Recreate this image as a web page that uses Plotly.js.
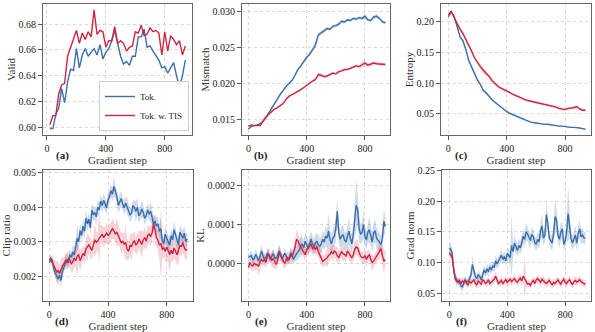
<!DOCTYPE html>
<html>
<head>
<meta charset="utf-8">
<script src="https://cdn.plot.ly/plotly-3.0.1.min.js"></script>
<style>html,body{margin:0;padding:0;background:#fff}</style>
</head>
<body>
<div id="plot" style="width:595px;height:332px"></div>
<script>
// steps for each grid of points
const stepsA = [20,40,60,80,100,120,140,160,180,200,220,240,260,280,300,320,340,360,380,400,420,440,460,480,500,520,540,560,580,600,620,640,660,680,700,720,740,760,780,800,820,840,860,880,900,920,940];
const steps20 = [0,20,40,60,80,100,120,140,160,180,200,220,240,260,280,300,320,340,360,380,400,420,440,460,480,500,520,540,560,580,600,620,640,660,680,700,720,740,760,780,800,820,840,860,880,900,920,940];
const steps10 = [0,10,20,30,40,50,60,70,80,90,100,110,120,130,140,150,160,170,180,190,200,210,220,230,240,250,260,270,280,290,300,310,320,330,340,350,360,370,380,390,400,410,420,430,440,450,460,470,480,490,500,510,520,530,540,550,560,570,580,590,600,610,620,630,640,650,660,670,680,690,700,710,720,730,740,750,760,770,780,790,800,810,820,830,840,850,860,870,880,890,900,910,920,930,940];

// (a) Valid
const validTok = [0.599,0.599,0.610,0.615,0.630,0.619,0.635,0.645,0.644,0.661,0.646,0.656,0.661,0.655,0.658,0.661,0.656,0.664,0.653,0.658,0.661,0.667,0.675,0.665,0.655,0.649,0.651,0.648,0.655,0.655,0.670,0.670,0.676,0.662,0.663,0.659,0.655,0.652,0.646,0.647,0.642,0.646,0.650,0.640,0.631,0.640,0.652];
const validTis = [0.602,0.609,0.609,0.626,0.633,0.634,0.655,0.662,0.669,0.675,0.665,0.673,0.668,0.674,0.670,0.691,0.672,0.675,0.674,0.662,0.667,0.667,0.678,0.665,0.667,0.665,0.659,0.662,0.663,0.674,0.673,0.679,0.671,0.672,0.677,0.674,0.675,0.673,0.656,0.674,0.659,0.671,0.668,0.664,0.667,0.656,0.663];

// (b) Mismatch
const mismatchTok = [0.0137,0.0141,0.0142,0.0142,0.0145,0.0148,0.0153,0.0160,0.0167,0.0174,0.0180,0.0186,0.0191,0.0197,0.0201,0.0205,0.0212,0.0220,0.0225,0.0231,0.0237,0.0241,0.0247,0.0254,0.0268,0.0271,0.0273,0.0277,0.0276,0.0280,0.0281,0.0283,0.0287,0.0286,0.0289,0.0288,0.0291,0.0290,0.0292,0.0291,0.0294,0.0289,0.0288,0.0293,0.0294,0.0291,0.0286,0.0285];
const mismatchTis = [0.0141,0.0143,0.0142,0.0143,0.0142,0.0149,0.0154,0.0158,0.0162,0.0165,0.0167,0.0170,0.0173,0.0179,0.0183,0.0185,0.0187,0.0189,0.0192,0.0195,0.0198,0.0202,0.0204,0.0206,0.0213,0.0212,0.0210,0.0211,0.0213,0.0215,0.0214,0.0217,0.0218,0.0220,0.0220,0.0222,0.0224,0.0225,0.0224,0.0227,0.0229,0.0226,0.0227,0.0229,0.0228,0.0228,0.0227,0.0227];
const mismatchTokSpread = [0.00008,0.0001,0.0001,0.0001,0.00012,0.0001,0.00012,0.00012,0.00015,0.00012,0.00015,0.00015,0.00018,0.00015,0.00018,0.00015,0.0002,0.00018,0.0002,0.00022,0.00025,0.0003,0.00035,0.00045,0.0003,0.00025,0.0003,0.00025,0.0002,0.00022,0.0002,0.00025,0.0002,0.0002,0.00022,0.0002,0.0002,0.00025,0.0002,0.00022,0.0004,0.00022,0.0002,0.00025,0.0003,0.00022,0.0002,0.0002];
const mismatchTisSpread = [0.00008,0.0001,0.0001,0.0001,0.0001,0.00012,0.0001,0.00012,0.0001,0.00012,0.0001,0.00012,0.00012,0.00015,0.00012,0.00012,0.00015,0.00012,0.00015,0.00012,0.00015,0.00015,0.00018,0.0002,0.0003,0.00018,0.00015,0.00015,0.00018,0.00015,0.00015,0.00018,0.00015,0.00018,0.00015,0.0002,0.00018,0.00025,0.0002,0.0004,0.00045,0.0002,0.00025,0.0002,0.0002,0.00022,0.00025,0.0002];

// (c) Entropy
const entropyTok = [0.208,0.216,0.209,0.194,0.176,0.169,0.155,0.137,0.127,0.115,0.105,0.098,0.088,0.084,0.078,0.073,0.069,0.065,0.062,0.057,0.054,0.051,0.049,0.046,0.044,0.042,0.040,0.039,0.037,0.036,0.035,0.035,0.034,0.033,0.033,0.032,0.031,0.031,0.030,0.030,0.029,0.029,0.028,0.028,0.028,0.027,0.026,0.025];
const entropyTis = [0.211,0.217,0.207,0.196,0.188,0.181,0.172,0.162,0.152,0.141,0.133,0.127,0.121,0.116,0.111,0.104,0.099,0.095,0.092,0.090,0.087,0.085,0.082,0.080,0.077,0.075,0.073,0.072,0.071,0.070,0.069,0.067,0.067,0.066,0.064,0.063,0.062,0.061,0.059,0.058,0.057,0.059,0.059,0.060,0.062,0.058,0.056,0.056];
const entropyTokSpread = [0.001,0.002,0.002,0.002,0.003,0.003,0.003,0.003,0.003,0.002,0.002,0.002,0.002,0.003,0.002,0.002,0.002,0.0015,0.0012,0.0012,0.001,0.001,0.001,0.001,0.0008,0.0008,0.0008,0.0008,0.0008,0.0007,0.0007,0.0007,0.0007,0.0006,0.0006,0.0006,0.0006,0.0006,0.0006,0.0006,0.0006,0.0006,0.0006,0.0006,0.0006,0.0006,0.0006,0.0006];
const entropyTisSpread = [0.001,0.002,0.002,0.003,0.003,0.004,0.003,0.003,0.003,0.003,0.003,0.004,0.006,0.004,0.003,0.003,0.003,0.003,0.002,0.002,0.002,0.002,0.002,0.002,0.002,0.002,0.002,0.002,0.002,0.002,0.002,0.002,0.002,0.002,0.002,0.002,0.002,0.002,0.002,0.003,0.002,0.002,0.002,0.002,0.002,0.002,0.002,0.002];

// (d) Clip ratio
const clipTok = [0.00239,0.00250,0.00247,0.00222,0.00210,0.00198,0.00192,0.00203,0.00188,0.00215,
  0.00228,0.00242,0.00250,0.00238,0.00262,0.00255,0.00270,0.00262,0.00285,0.00310,
  0.00300,0.00332,0.00318,0.00345,0.00330,0.00368,0.00352,0.00365,0.00340,0.00392,
  0.00378,0.00385,0.00372,0.00400,0.00392,0.00418,0.00405,0.00420,0.00410,0.00398,
  0.00422,0.00430,0.00448,0.00438,0.00460,0.00445,0.00432,0.00405,0.00415,0.00425,
  0.00410,0.00398,0.00412,0.00402,0.00390,0.00378,0.00382,0.00405,0.00398,0.00388,
  0.00400,0.00375,0.00382,0.00395,0.00385,0.00368,0.00375,0.00392,0.00380,0.00388,
  0.00372,0.00348,0.00360,0.00345,0.00352,0.00330,0.00338,0.00302,0.00295,0.00322,
  0.00310,0.00298,0.00290,0.00318,0.00305,0.00335,0.00320,0.00298,0.00290,0.00328,
  0.00318,0.00310,0.00325,0.00300,0.00308];
const clipTis = [0.00248,0.00252,0.00240,0.00228,0.00222,0.00212,0.00216,0.00208,0.00222,0.00230,
  0.00236,0.00245,0.00240,0.00250,0.00246,0.00235,0.00242,0.00252,0.00245,0.00258,
  0.00262,0.00245,0.00255,0.00266,0.00260,0.00280,0.00285,0.00292,0.00282,0.00275,
  0.00290,0.00305,0.00298,0.00302,0.00310,0.00318,0.00322,0.00312,0.00318,0.00325,
  0.00318,0.00322,0.00330,0.00338,0.00332,0.00322,0.00328,0.00318,0.00310,0.00296,
  0.00302,0.00292,0.00298,0.00278,0.00272,0.00290,0.00285,0.00298,0.00302,0.00290,
  0.00295,0.00308,0.00300,0.00292,0.00305,0.00312,0.00302,0.00318,0.00322,0.00315,
  0.00325,0.00350,0.00335,0.00312,0.00305,0.00290,0.00295,0.00278,0.00282,0.00272,
  0.00285,0.00270,0.00262,0.00275,0.00265,0.00282,0.00270,0.00262,0.00275,0.00290,
  0.00285,0.00298,0.00282,0.00275,0.00278];
const clipTokSpread = [0.00008,0.0001,0.0001,0.00012,0.00015,0.00015,0.0002,0.00015,0.0002,0.00015,
  0.00015,0.00015,0.0002,0.00018,0.00015,0.00015,0.0002,0.00025,0.0002,0.0004,
  0.0002,0.0002,0.00018,0.0002,0.00025,0.0002,0.0002,0.00018,0.0002,0.0002,
  0.00018,0.0002,0.00025,0.0002,0.0002,0.0002,0.00018,0.0002,0.0002,0.00018,
  0.0002,0.0002,0.00018,0.0002,0.0003,0.00018,0.0002,0.0002,0.00025,0.0002,
  0.00018,0.0002,0.0002,0.00025,0.0002,0.0002,0.0002,0.00018,0.0002,0.0003,
  0.00025,0.0002,0.0002,0.00025,0.0002,0.0002,0.00018,0.0002,0.0002,0.0003,
  0.00025,0.0002,0.0002,0.00025,0.0002,0.0002,0.0003,0.0002,0.0002,0.00025,
  0.0002,0.0002,0.00025,0.0002,0.0002,0.00025,0.0002,0.0002,0.0003,0.0002,
  0.0002,0.00025,0.0002,0.0002,0.0002];
const clipTisSpread = [0.0001,0.00012,0.00015,0.0002,0.00025,0.0003,0.00025,0.00025,0.0003,0.00025,
  0.0002,0.00025,0.0002,0.00025,0.0002,0.00025,0.0003,0.00025,0.0002,0.0006,
  0.00025,0.0003,0.00025,0.0002,0.00025,0.0003,0.0004,0.00025,0.0003,0.00025,
  0.00025,0.0005,0.0003,0.00025,0.0007,0.0003,0.00025,0.0003,0.00025,0.0003,
  0.00025,0.0003,0.00025,0.0003,0.00025,0.00025,0.0004,0.0003,0.00025,0.0003,
  0.00025,0.0003,0.0005,0.0003,0.00025,0.0003,0.0004,0.00025,0.0003,0.00025,
  0.0003,0.00025,0.0003,0.0004,0.00025,0.0003,0.00025,0.0003,0.00025,0.0003,
  0.00025,0.0003,0.0004,0.00025,0.0003,0.0004,0.001,0.0003,0.00025,0.0003,
  0.0004,0.0003,0.0005,0.0003,0.00025,0.0003,0.00025,0.0003,0.0004,0.0003,
  0.00025,0.0003,0.00025,0.0003,0.00025];

// (e) KL
const klTok = [1.5e-5,1.8e-5,2.0e-5,1.0e-5,1.2e-5,2.3e-5,1.5e-5,0.6e-5,1.8e-5,3.2e-5,
  2.0e-5,1.0e-5,1.5e-5,2.7e-5,2.0e-5,1.0e-5,1.8e-5,2.5e-5,1.5e-5,1.2e-5,
  2.0e-5,3.2e-5,2.5e-5,1.0e-5,1.8e-5,2.6e-5,1.8e-5,0.6e-5,1.2e-5,2.8e-5,
  2.0e-5,1.0e-5,1.8e-5,2.3e-5,3.0e-5,3.6e-5,4.5e-5,4.9e-5,4.0e-5,5.7e-5,
  4.8e-5,3.8e-5,5.0e-5,6.2e-5,5.0e-5,4.2e-5,5.2e-5,5.7e-5,4.8e-5,4.4e-5,
  5.0e-5,6.2e-5,5.5e-5,7.0e-5,6.5e-5,8.3e-5,6.0e-5,5.0e-5,6.5e-5,7.0e-5,
  9.0e-5,13.4e-5,8.0e-5,6.2e-5,7.0e-5,7.4e-5,6.0e-5,5.5e-5,7.0e-5,8.3e-5,
  6.5e-5,5.0e-5,7.5e-5,11.0e-5,15.0e-5,13.8e-5,9.0e-5,7.5e-5,8.0e-5,10.0e-5,
  7.0e-5,6.0e-5,8.0e-5,8.7e-5,7.0e-5,5.5e-5,8.0e-5,8.3e-5,6.5e-5,6.0e-5,
  5.5e-5,4.9e-5,6.5e-5,10.9e-5,9.5e-5];
const klTis = [-1.1e-5,0.2e-5,-0.5e-5,-0.7e-5,0.0,-0.4e-5,-0.3e-5,-0.8e-5,0.3e-5,1.0e-5,
  0.5e-5,1.0e-5,0.2e-5,1.9e-5,2.3e-5,1.5e-5,0.8e-5,1.2e-5,0.5e-5,-0.3e-5,
  0.5e-5,2.7e-5,2.0e-5,1.5e-5,0.5e-5,0.0,1.0e-5,1.5e-5,1.0e-5,2.0e-5,
  1.8e-5,2.8e-5,4.0e-5,6.2e-5,5.8e-5,4.9e-5,4.2e-5,3.6e-5,2.5e-5,2.2e-5,
  3.5e-5,3.8e-5,4.5e-5,4.9e-5,3.8e-5,4.2e-5,3.5e-5,4.4e-5,3.0e-5,2.2e-5,
  1.5e-5,0.5e-5,0.8e-5,1.0e-5,1.4e-5,2.0e-5,2.3e-5,3.0e-5,2.4e-5,3.2e-5,
  2.8e-5,2.0e-5,1.5e-5,2.3e-5,3.0e-5,2.5e-5,2.3e-5,1.8e-5,3.2e-5,2.6e-5,
  1.8e-5,1.4e-5,2.2e-5,3.6e-5,4.2e-5,4.0e-5,2.8e-5,1.9e-5,1.5e-5,1.4e-5,
  2.0e-5,1.0e-5,1.8e-5,2.2e-5,1.0e-5,0.2e-5,0.5e-5,1.2e-5,1.8e-5,2.3e-5,
  3.2e-5,3.8e-5,2.0e-5,0.5e-5,1.0e-5];
const klTokSpread = [0.7e-5,1e-5,1.3e-5,1.3e-5,1e-5,1.3e-5,1.3e-5,1e-5,1.3e-5,1.6e-5,
  1.3e-5,1.3e-5,1e-5,1.3e-5,1.3e-5,1e-5,1.3e-5,1.3e-5,1e-5,1.3e-5,
  1.3e-5,1.6e-5,1.3e-5,1.3e-5,1e-5,1.3e-5,1.3e-5,1e-5,1.3e-5,1.3e-5,
  1.3e-5,1.3e-5,1.3e-5,1.6e-5,2e-5,2e-5,3e-5,2e-5,2e-5,2.3e-5,
  2e-5,2e-5,2e-5,2.3e-5,2e-5,2e-5,2.3e-5,2e-5,2.6e-5,2e-5,
  2e-5,2.3e-5,2e-5,2.6e-5,2.3e-5,4.5e-5,2.6e-5,2.3e-5,2.6e-5,2.6e-5,
  3.5e-5,3.5e-5,2.6e-5,2.3e-5,2.6e-5,2.6e-5,2.3e-5,2.3e-5,2.6e-5,3.5e-5,
  2.6e-5,2.3e-5,2.6e-5,4e-5,6.5e-5,4e-5,3.5e-5,2.6e-5,2.6e-5,3.5e-5,
  2.6e-5,2.3e-5,2.6e-5,3.5e-5,2.6e-5,2.6e-5,2.6e-5,3e-5,2.6e-5,2.6e-5,
  2.3e-5,2.3e-5,2.6e-5,3e-5,2.6e-5];
const klTisSpread = [1e-5,1.3e-5,1.3e-5,1.6e-5,1.6e-5,1.3e-5,1.3e-5,2.5e-5,2e-5,1.3e-5,
  1.3e-5,1.6e-5,1.3e-5,1.6e-5,2e-5,1.3e-5,1.6e-5,2.5e-5,1.6e-5,1.3e-5,
  1.3e-5,2e-5,1.6e-5,1.3e-5,1.6e-5,1.3e-5,1.6e-5,1.6e-5,1.3e-5,2e-5,
  1.6e-5,2e-5,2e-5,2.5e-5,1.6e-5,1.6e-5,2e-5,1.6e-5,1.3e-5,1.6e-5,
  1.6e-5,1.3e-5,1.6e-5,2e-5,1.6e-5,1.3e-5,1.6e-5,2e-5,1.6e-5,1.6e-5,
  2e-5,1.6e-5,1.3e-5,1.6e-5,2.5e-5,1.6e-5,1.3e-5,1.6e-5,2e-5,1.6e-5,
  1.6e-5,2e-5,1.6e-5,1.3e-5,1.6e-5,2e-5,1.6e-5,1.3e-5,1.6e-5,1.6e-5,
  1.6e-5,1.3e-5,1.6e-5,2e-5,2e-5,2e-5,1.6e-5,1.3e-5,1.6e-5,1.6e-5,
  1.6e-5,2e-5,1.6e-5,1.3e-5,1.6e-5,2e-5,1.6e-5,1.3e-5,1.6e-5,1.6e-5,
  2e-5,2e-5,2.5e-5,3e-5,2e-5];

// (f) Grad norm
const gradTok = [0.124,0.122,0.116,0.090,0.078,0.072,0.070,0.068,0.063,0.060,
  0.066,0.072,0.068,0.070,0.074,0.080,0.097,0.085,0.078,0.074,
  0.080,0.078,0.072,0.080,0.088,0.083,0.090,0.085,0.093,0.088,
  0.095,0.092,0.103,0.098,0.102,0.108,0.112,0.105,0.110,0.103,
  0.115,0.112,0.108,0.128,0.118,0.132,0.125,0.120,0.128,0.124,
  0.132,0.143,0.138,0.150,0.147,0.140,0.136,0.146,0.142,0.133,
  0.130,0.138,0.134,0.152,0.160,0.140,0.145,0.178,0.165,0.140,
  0.135,0.132,0.148,0.175,0.170,0.145,0.138,0.150,0.155,0.130,
  0.136,0.150,0.180,0.160,0.140,0.132,0.138,0.145,0.132,0.148,
  0.155,0.142,0.145,0.140,0.140];
const gradTis = [0.116,0.113,0.108,0.085,0.074,0.070,0.068,0.071,0.066,0.070,
  0.068,0.072,0.066,0.064,0.070,0.067,0.069,0.072,0.066,0.064,
  0.070,0.068,0.065,0.072,0.070,0.066,0.068,0.072,0.066,0.068,
  0.070,0.073,0.078,0.070,0.066,0.068,0.071,0.066,0.069,0.072,
  0.068,0.070,0.073,0.069,0.071,0.074,0.070,0.068,0.072,0.075,
  0.070,0.078,0.074,0.068,0.065,0.066,0.063,0.068,0.071,0.066,
  0.072,0.074,0.070,0.068,0.073,0.070,0.068,0.066,0.069,0.071,
  0.067,0.064,0.068,0.066,0.069,0.072,0.068,0.065,0.070,0.073,
  0.068,0.066,0.070,0.072,0.068,0.064,0.069,0.071,0.068,0.070,
  0.072,0.069,0.067,0.066,0.065];
const gradTokSpread = [0.008,0.01,0.008,0.008,0.006,0.006,0.006,0.005,0.006,0.007,
  0.006,0.006,0.006,0.006,0.007,0.008,0.015,0.008,0.007,0.006,
  0.007,0.006,0.006,0.007,0.008,0.007,0.008,0.008,0.008,0.007,
  0.008,0.008,0.01,0.008,0.008,0.009,0.01,0.008,0.009,0.008,
  0.01,0.009,0.01,0.05,0.012,0.012,0.01,0.01,0.012,0.01,
  0.012,0.012,0.012,0.015,0.012,0.012,0.01,0.012,0.012,0.01,
  0.01,0.012,0.012,0.015,0.02,0.012,0.012,0.025,0.015,0.012,
  0.01,0.012,0.012,0.03,0.02,0.012,0.012,0.015,0.012,0.01,
  0.012,0.015,0.045,0.02,0.012,0.012,0.012,0.015,0.012,0.012,
  0.015,0.012,0.012,0.01,0.01];
const gradTisSpread = [0.006,0.006,0.006,0.006,0.005,0.008,0.005,0.006,0.008,0.006,
  0.007,0.006,0.005,0.006,0.005,0.006,0.006,0.005,0.006,0.007,
  0.006,0.006,0.005,0.006,0.006,0.005,0.006,0.006,0.005,0.006,
  0.006,0.006,0.008,0.006,0.005,0.006,0.006,0.005,0.006,0.006,
  0.006,0.005,0.006,0.006,0.006,0.007,0.006,0.006,0.006,0.007,
  0.006,0.007,0.035,0.006,0.006,0.006,0.007,0.006,0.006,0.006,
  0.006,0.007,0.006,0.006,0.006,0.006,0.006,0.007,0.006,0.006,
  0.006,0.006,0.006,0.006,0.006,0.006,0.006,0.006,0.006,0.007,
  0.006,0.006,0.006,0.006,0.006,0.006,0.007,0.008,0.006,0.006,
  0.006,0.006,0.006,0.006,0.006];

const xTicks = [0, 400, 800];

const blue = '#3b6eab';
const red = '#d0243f';
const blueFill = 'rgba(59,110,171,0.25)';
const redFill = 'rgba(208,36,63,0.2)';
const fontFamily = '"Liberation Serif", "DejaVu Serif", serif';

function band(x, y, s, n, color) {
    // min/max spread drawn as one closed shape
    let upper = y.map((v, i) => v + s[i]);
    let lower = y.map((v, i) => v - s[i]).reverse();
    return {
        x: x.concat(x.slice().reverse()),
        y: upper.concat(lower),
        mode: 'lines',
        fill: 'toself',
        fillcolor: color,
        line: { width: 0 },
        hoverinfo: 'skip',
        showlegend: false,
        xaxis: 'x' + n,
        yaxis: 'y' + n
    };
}

function line(x, y, n, color, name, legend) {
    return {
        x: x,
        y: y,
        mode: 'lines',
        name: name,
        line: { color: color, width: 1.4 },
        showlegend: legend,
        xaxis: 'x' + n,
        yaxis: 'y' + n
    };
}

let data = [
    line(stepsA, validTok, '', blue, 'Tok.', true),
    line(stepsA, validTis, '', red, 'Tok. w. TIS', true),

    band(steps20, mismatchTok, mismatchTokSpread, 2, blueFill),
    band(steps20, mismatchTis, mismatchTisSpread, 2, redFill),
    line(steps20, mismatchTok, 2, blue, 'Tok.', false),
    line(steps20, mismatchTis, 2, red, 'Tok. w. TIS', false),

    band(steps20, entropyTok, entropyTokSpread, 3, blueFill),
    band(steps20, entropyTis, entropyTisSpread, 3, redFill),
    line(steps20, entropyTok, 3, blue, 'Tok.', false),
    line(steps20, entropyTis, 3, red, 'Tok. w. TIS', false),

    band(steps10, clipTok, clipTokSpread, 4, blueFill),
    band(steps10, clipTis, clipTisSpread, 4, redFill),
    line(steps10, clipTok, 4, blue, 'Tok.', false),
    line(steps10, clipTis, 4, red, 'Tok. w. TIS', false),

    band(steps10, klTok, klTokSpread, 5, blueFill),
    band(steps10, klTis, klTisSpread, 5, redFill),
    line(steps10, klTok, 5, blue, 'Tok.', false),
    line(steps10, klTis, 5, red, 'Tok. w. TIS', false),

    band(steps10, gradTok, gradTokSpread, 6, blueFill),
    band(steps10, gradTis, gradTisSpread, 6, redFill),
    line(steps10, gradTok, 6, blue, 'Tok.', false),
    line(steps10, gradTis, 6, red, 'Tok. w. TIS', false),
];

const W = 595, H = 332;

function xAxis(left, right, range, anchor) {
    return {
        domain: [left / W, right / W],
        range: range,
        anchor: anchor,
        tickvals: xTicks,
        ticks: 'outside',
        ticklen: 4,
        tickcolor: '#555',
        showline: true,
        mirror: true,
        linecolor: '#666',
        linewidth: 1,
        showgrid: true,
        gridcolor: '#cfcfcf',
        griddash: 'dot',
        gridwidth: 0.8,
        zeroline: false,
        tickfont: { family: fontFamily, size: 10, color: '#222' },
        title: { text: 'Gradient step', font: { family: fontFamily, size: 11, color: '#333' }, standoff: 0 }
    };
}

function yAxis(top, bottom, range, dtick, fmt, title, anchor) {
    return {
        domain: [1 - bottom / H, 1 - top / H],
        range: range,
        anchor: anchor,
        dtick: dtick,
        tick0: 0,
        tickformat: fmt,
        ticks: 'outside',
        ticklen: 4,
        tickcolor: '#555',
        showline: true,
        mirror: true,
        linecolor: '#666',
        linewidth: 1,
        showgrid: true,
        gridcolor: '#cfcfcf',
        griddash: 'dot',
        gridwidth: 0.8,
        zeroline: false,
        tickfont: { family: fontFamily, size: 10, color: '#222' },
        title: { text: title, font: { family: fontFamily, size: 11, color: '#333' }, standoff: 0 }
    };
}

function panelLabel(text, x, y) {
    return {
        text: '<b>' + text + '</b>',
        xref: 'paper', yref: 'paper',
        x: x / W, y: 1 - y / H,
        xanchor: 'center', yanchor: 'middle',
        showarrow: false,
        borderpad: 0,
        font: { family: fontFamily, size: 11, color: '#222' }
    };
}

const layout = {
    width: W,
    height: H,
    margin: { l: 0, r: 0, t: 0, b: 0 },
    paper_bgcolor: '#fff',
    plot_bgcolor: '#fff',
    font: { family: fontFamily, color: '#222' },
    showlegend: true,
    legend: {
        x: 189 / W, y: 1 - 131 / H,
        xanchor: 'right', yanchor: 'bottom',
        bgcolor: 'rgba(255,255,255,0.9)',
        bordercolor: '#d0d0d0',
        borderwidth: 1,
        itemwidth: 30,
        font: { family: fontFamily, size: 9 },
        tracegroupgap: 0
    },
    xaxis: xAxis(43, 192, [-27, 985], 'y'),
    yaxis: yAxis(4, 135, [0.594, 0.6955], 0.02, '.2f', 'Valid', 'x'),
    xaxis2: xAxis(242, 390, [-44, 972], 'y2'),
    yaxis2: yAxis(4, 135, [0.0129, 0.0311], 0.005, '.3f', 'Mismatch', 'x2'),
    xaxis3: xAxis(441, 591, [-50, 978], 'y3'),
    yaxis3: yAxis(4, 135, [0.0156, 0.229], 0.05, '.2f', 'Entropy', 'x3'),
    xaxis4: xAxis(43, 193, [-43, 979], 'y4'),
    yaxis4: yAxis(170, 301, [0.00128, 0.00508], 0.001, '.3f', 'Clip ratio', 'x4'),
    xaxis5: xAxis(242, 390, [-44, 972], 'y5'),
    yaxis5: yAxis(170, 301, [-0.0000974, 0.000241], 0.0001, '.4f', 'KL', 'x5'),
    xaxis6: xAxis(442, 591, [-50, 978], 'y6'),
    yaxis6: yAxis(170, 301, [0.0375, 0.251], 0.05, '.2f', 'Grad norm', 'x6'),
    annotations: [
        panelLabel('(a)', 62, 155),
        panelLabel('(b)', 261, 155),
        panelLabel('(c)', 461, 155),
        panelLabel('(d)', 62, 321),
        panelLabel('(e)', 261, 321),
        panelLabel('(f)', 461, 321)
    ]
};

const config = { displayModeBar: false, staticPlot: true };

Plotly.newPlot('plot', data, layout, config);
</script>
</body>
</html>
